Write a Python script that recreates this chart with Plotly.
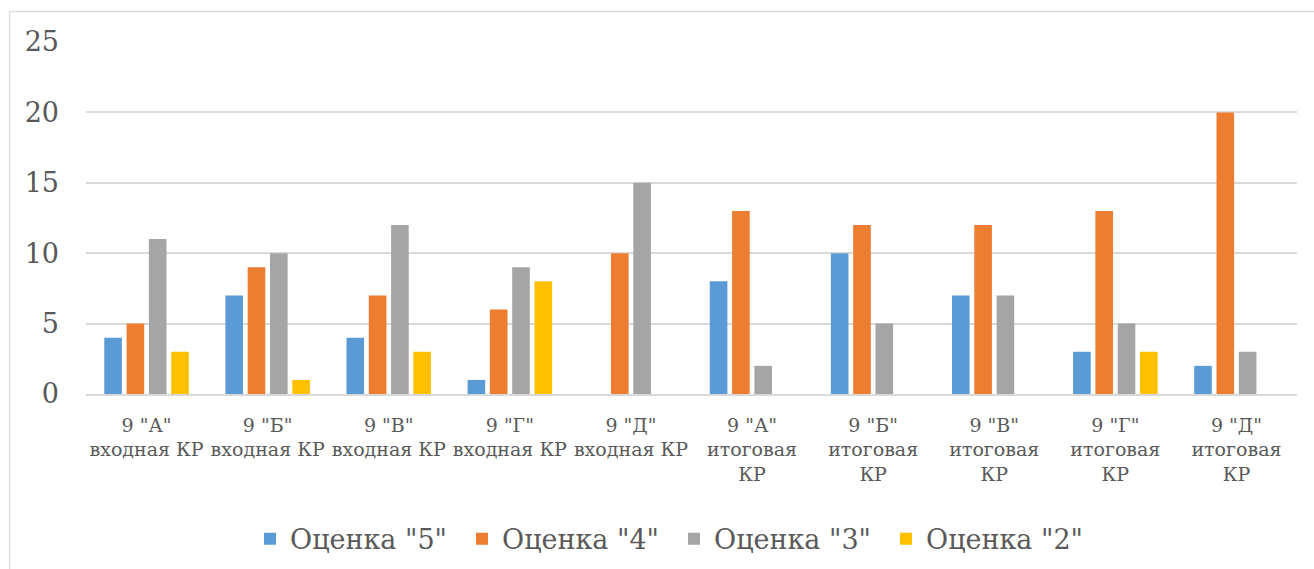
import plotly.graph_objects as go

# Categories: class and type of test (entrance / final)
categories = [
    '9 "А"<br>входная КР',
    '9 "Б"<br>входная КР',
    '9 "В"<br>входная КР',
    '9 "Г"<br>входная КР',
    '9 "Д"<br>входная КР',
    '9 "А"<br>итоговая<br>КР',
    '9 "Б"<br>итоговая<br>КР',
    '9 "В"<br>итоговая<br>КР',
    '9 "Г"<br>итоговая<br>КР',
    '9 "Д"<br>итоговая<br>КР',
]

# Number of students per grade
grade_5 = [4, 7, 4, 1, 0, 8, 10, 7, 3, 2]
grade_4 = [5, 9, 7, 6, 10, 13, 12, 12, 13, 20]
grade_3 = [11, 10, 12, 9, 15, 2, 5, 7, 5, 3]
grade_2 = [3, 1, 3, 8, 0, 0, 0, 0, 3, 0]

series_names = ['Оценка "5"', 'Оценка "4"', 'Оценка "3"', 'Оценка "2"']
series_values = [grade_5, grade_4, grade_3, grade_2]
series_colors = ["#5B9BD5", "#ED7D31", "#A5A5A5", "#FFC000"]

y_ticks = [0, 5, 10, 15, 20, 25]

FONT = "DejaVu Serif"
TEXT = "#595959"
GRID = "#D9D9D9"

W, H = 1314, 569
L, R, T, B = 86, 17, 42, 174.5

fig = go.Figure()
for name, vals, col in zip(series_names, series_values, series_colors):
    fig.add_trace(go.Bar(
        x=categories, y=vals, name=name,
        marker=dict(color=col, line=dict(width=0)),
    ))

pw = W - L - R
ph = H - T - B

def px_x(p):
    return (p - L) / pw

def px_y(p):
    return (H - B - p) / ph

fig.update_layout(
    width=W, height=H,
    margin=dict(l=L, r=R, t=T, b=B, autoexpand=False),
    paper_bgcolor="white", plot_bgcolor="white",
    barmode="group", bargap=0.263, bargroupgap=0.21,
    font=dict(family=FONT, color=TEXT),
    showlegend=True,
    legend=dict(
        orientation="h",
        x=px_x(250), xanchor="left",
        y=px_y(540), yanchor="middle",
        font=dict(size=27, family=FONT, color=TEXT),
        entrywidth=167, entrywidthmode="pixels",
        traceorder="normal",
        bgcolor="rgba(0,0,0,0)",
    ),
    xaxis=dict(
        showgrid=False, showline=True, linecolor=GRID, linewidth=1.5,
        ticks="", tickfont=dict(size=19, family=FONT, color=TEXT),
        tickangle=0, ticklabelstandoff=13, fixedrange=True,
    ),
    yaxis=dict(
        range=[0, 25], tickvals=y_ticks,
        showgrid=True, gridcolor=GRID, gridwidth=1.5,
        zeroline=False, showline=False,
        ticks="", tickfont=dict(size=27, family=FONT, color=TEXT),
        ticklabelstandoff=26, fixedrange=True,
    ),
    shapes=[dict(
        type="rect", xref="paper", yref="paper",
        x0=px_x(9.5), x1=px_x(1330), y0=px_y(590), y1=px_y(11.5),
        line=dict(color=GRID, width=1.2), fillcolor="rgba(0,0,0,0)",
        layer="below",
    )],
)

fig.write_html("out.html")
